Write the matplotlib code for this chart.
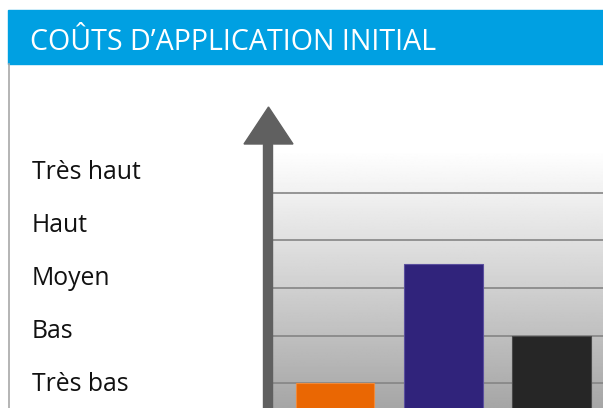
import numpy as np
import matplotlib
matplotlib.use("Agg")
import matplotlib.pyplot as plt
from matplotlib.patches import Rectangle, Polygon

W, H = 603, 408

title = "COÛTS D\u2019APPLICATION INITIAL"
levels = ["Très haut", "Haut", "Moyen", "Bas", "Très bas"]
options = ["A", "B", "C"]
costs = [1.0, 3.5, 2.0]
bar_colors = ["#EA6703", "#30237B", "#262626"]
edge_colors = ["#F08A3A", "#5A4F9E", "#4A4A4A"]
grid_values = [1, 2, 3, 4, 5]

plt.rcParams['font.family'] = ['Open Sans', 'DejaVu Sans']

fig = plt.figure(figsize=(W / 100, H / 100), dpi=100)

def fx(x):
    return x / W

def fy(y):
    # pixel from top -> figure fraction
    return 1 - y / H

# header band
fig.patches.append(Rectangle((fx(8), fy(64)), fx(W - 8), fy(10) - fy(64),
                             transform=fig.transFigure, color="#00A0E2", zorder=0))
fig.text(fx(30), fy(49.5), title, color="white", fontsize=20.6, va="baseline", ha="left")
# left frame line
fig.add_artist(plt.Line2D([fx(8.5), fx(8.5)], [fy(64), 0], transform=fig.transFigure,
                          color="#A8A8A8", lw=1.2))

# level labels
for i, lab in enumerate(levels):
    fig.text(fx(32), fy(179 + i * 52.9), lab, color="#111111", fontsize=17.8,
             va="baseline", ha="left")

# plot area
ax = fig.add_axes([fx(272), 0, fx(W - 272), fy(150)])
ax.set_xlim(-0.583, 2.48)
ax.set_ylim(0.474, 5.905)

grad = np.linspace(0.62, 1.0, 256).reshape(-1, 1) ** 0.9
ax.imshow(grad, cmap="gray", vmin=0, vmax=1, origin="lower", aspect="auto",
          extent=[0, 1, 0, 1], transform=ax.transAxes, zorder=0)

for v in grid_values:
    ax.axhline(v, color="#858585", lw=1.2, zorder=1)

x = np.arange(len(options))
ax.bar(x, costs, width=0.73, color=bar_colors, edgecolor=edge_colors, linewidth=0.8, zorder=2)

ax.set_axis_off()

# arrow (y axis)
fig.patches.append(Rectangle((fx(263), 0), fx(9), fy(144), transform=fig.transFigure,
                             color="#606060", zorder=5))
fig.patches.append(Polygon([(fx(244), fy(144)), (fx(293), fy(144)), (fx(268.5), fy(107))],
                           closed=True, transform=fig.transFigure, color="#606060", zorder=5))

fig.savefig("out.png", dpi=100)
